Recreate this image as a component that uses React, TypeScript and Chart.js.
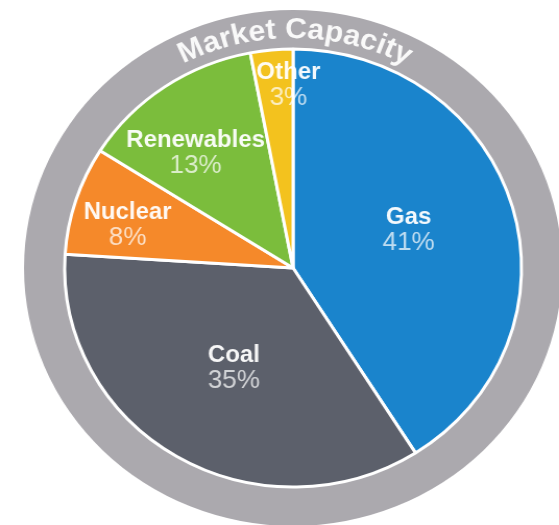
import React, { useEffect, useRef } from "react";
import { Chart, registerables } from "chart.js";

Chart.register(...registerables);

// ---- data ----
const categories = ["Gas", "Coal", "Nuclear", "Renewables", "Other"];
const shares = [41, 35, 8, 13, 3];
const sliceColors = ["#1a84cc", "#5c606b", "#f5892a", "#7bbd3c", "#f3c21e"];
const ringTitle = "Market Capacity";
const ringColor = "#aba9ae";

// label placement (radius fraction of pie, angle shift in degrees from slice middle)
const labelRadius = [0.535, 0.525, 0.75, 0.675, 0.835];
const labelShift = [-2.8, -1, -3, -5, 4];

const FONT = "'Liberation Sans', Arial, Helvetica, sans-serif";

const labelPlugin = {
  id: "sliceLabels",
  afterDatasetsDraw(chart: any) {
    const meta = chart.getDatasetMeta(1);
    const ctx = chart.ctx;
    ctx.save();
    ctx.textAlign = "center";
    ctx.textBaseline = "middle";
    meta.data.forEach((arc: any, i: number) => {
      const p = arc.getProps(["x", "y", "startAngle", "endAngle", "outerRadius"], true);
      const mid = (p.startAngle + p.endAngle) / 2 + (labelShift[i] * Math.PI) / 180;
      const r = p.outerRadius * labelRadius[i];
      const x = p.x + Math.cos(mid) * r;
      const y = p.y + Math.sin(mid) * r;
      ctx.fillStyle = "rgba(255,255,255,0.95)";
      ctx.font = `bold 23px ${FONT}`;
      ctx.fillText(categories[i], x, y - 12.5);
      ctx.fillStyle = "rgba(255,255,255,0.72)";
      ctx.font = `25px ${FONT}`;
      ctx.fillText(`${shares[i]}%`, x, y + 13);
    });
    ctx.restore();
  },
};

const arcTitlePlugin = {
  id: "arcTitle",
  afterDraw(chart: any) {
    const meta = chart.getDatasetMeta(0);
    const arc = meta.data[0];
    if (!arc) return;
    const p = arc.getProps(["x", "y", "innerRadius", "outerRadius"], true);
    const ctx = chart.ctx;
    const r = p.innerRadius + 11;
    ctx.save();
    ctx.font = `bold 29px ${FONT}`;
    ctx.fillStyle = "rgba(255,255,255,0.93)";
    ctx.textAlign = "center";
    ctx.textBaseline = "alphabetic";
    const chars = [...ringTitle];
    const widths = chars.map((c) => ctx.measureText(c).width);
    const total = widths.reduce((a, b) => a + b, 0);
    let ang = -Math.PI / 2 - total / r / 2 + 0.008;
    chars.forEach((c, i) => {
      const a = ang + widths[i] / 2 / r;
      ctx.save();
      ctx.translate(p.x + r * Math.cos(a), p.y + r * Math.sin(a));
      ctx.rotate(a + Math.PI / 2);
      ctx.fillText(c, 0, 0);
      ctx.restore();
      ang += widths[i] / r;
    });
    ctx.restore();
  },
};

export default function App() {
  const ref = useRef<HTMLCanvasElement>(null);
  useEffect(() => {
    if (!ref.current) return;
    const chart = new Chart(ref.current, {
      type: "doughnut",
      data: {
        labels: categories,
        datasets: [
          {
            data: [100],
            backgroundColor: [ringColor],
            borderWidth: 0,
            hoverBorderWidth: 0,
            weight: 39,
            order: 1,
          } as any,
          {
            data: shares,
            backgroundColor: sliceColors,
            borderColor: "#ffffff",
            borderWidth: 3,
            hoverOffset: 0,
            weight: 219,
            order: 0,
          } as any,
        ],
      },
      options: {
        responsive: false,
        animation: false,
        cutout: 0,
        rotation: 0,
        layout: { padding: { top: 10, bottom: 1, left: 23, right: 1 } },
        plugins: {
          legend: { display: false },
          tooltip: { enabled: false },
          title: { display: false },
        },
        events: [],
      },
      plugins: [labelPlugin, arcTitlePlugin],
    });
    return () => chart.destroy();
  }, []);

  return (
    <div
      style={{
        position: "absolute",
        left: 0,
        top: 0,
        width: 559,
        height: 525,
        overflow: "hidden",
        background: "#ffffff",
      }}
    >
      <div style={{ transform: "scaleX(1.043)", transformOrigin: "0 0", width: 540, height: 527 }}>
        <canvas ref={ref} width={540} height={527} style={{ width: 540, height: 527, display: "block" }} />
      </div>
    </div>
  );
}
